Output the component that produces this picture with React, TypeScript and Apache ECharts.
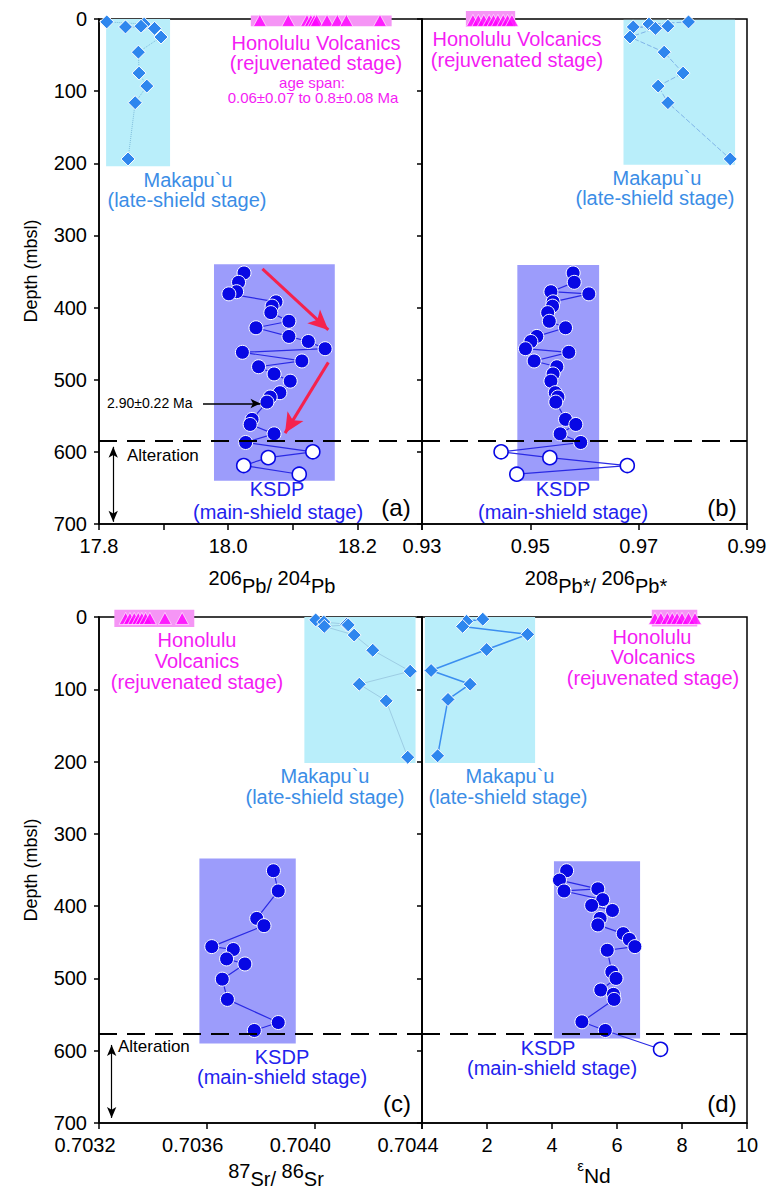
import React, { useEffect, useRef } from "react";
import * as echarts from "echarts";

const FONT = "'Liberation Sans', Arial, Helvetica, sans-serif";

// ---------- sample depths (mbsl) ----------
const MAK_DEPTH = [4, 7, 10, 11, 13, 25, 46, 75, 93, 116, 194];
const MAK_DEPTH_ND = [3, 6, 13, 24, 45, 74, 93, 114, 192];
const KSDP_DEPTH_PB = [352, 365, 378, 381, 392, 398, 407, 419, 428, 440, 447, 457, 462, 474, 482, 492, 502, 518, 524, 531, 555, 562, 575, 587];
const KSDP_ALT_DEPTH_PB = [600, 608, 619, 631];
const KSDP_DEPTH_SR = [351, 379, 417, 427, 456, 460, 473, 480, 501, 529, 561, 572];
const KSDP_DEPTH_ND = [351, 364, 376, 379, 391, 399, 406, 417, 426, 438, 446, 456, 461, 491, 500, 516, 522, 529, 560, 572];
const KSDP_ALT_DEPTH_ND = [598];
const HON_DEPTH = 2;

// ---------- (a) 206Pb/204Pb ----------
const MAK_PB206 = [17.812, 17.870, 17.865, 17.841, 17.886, 17.896, 17.861, 17.862, 17.874, 17.856, 17.845];
const KSDP_PB206 = [18.0245, 18.016, 18.013, 18.001, 18.074, 18.068, 18.066, 18.094, 18.043, 18.094, 18.124, 18.150, 18.022, 18.114, 18.047, 18.071, 18.096, 18.080, 18.065, 18.060, 18.037, 18.034, 18.071, 18.027];
const KSDP_ALT_PB206 = [18.131, 18.062, 18.024, 18.110];
const HON_PB206 = [18.049, 18.093, 18.122, 18.128, 18.133, 18.137, 18.153, 18.169, 18.183, 18.235];

// ---------- (b) 208Pb*/206Pb* ----------
const MAK_PB208 = [0.9792, 0.9719, 0.9754, 0.9690, 0.9731, 0.9684, 0.9747, 0.9782, 0.9736, 0.9754, 0.9869];
const KSDP_PB208 = [0.9579, 0.9581, 0.9538, 0.9608, 0.9542, 0.9541, 0.9532, 0.9535, 0.9565, 0.9512, 0.9501, 0.9491, 0.9571, 0.9507, 0.9549, 0.9542, 0.9538, 0.9546, 0.9551, 0.9547, 0.9565, 0.9584, 0.9555, 0.9593];
const KSDP_ALT_PB208 = [0.9446, 0.9536, 0.9679, 0.9475];
const HON_PB208 = [0.9394, 0.9404, 0.9414, 0.9424, 0.9432, 0.9440, 0.9450, 0.9458, 0.9466];

// ---------- (c) 87Sr/86Sr ----------
const MAK_SR = [0.704005, 0.704035, 0.70412, 0.704126, 0.704037, 0.704148, 0.704217, 0.704356, 0.704167, 0.704267, 0.704347];
const KSDP_SR = [0.703848, 0.703866, 0.703786, 0.703813, 0.703619, 0.703699, 0.703674, 0.703742, 0.703658, 0.703677, 0.703866, 0.703777];
const HON_SR = [0.703299, 0.703315, 0.703331, 0.703346, 0.703359, 0.703373, 0.703389, 0.703445, 0.703509];

// ---------- (d) eps Nd ----------
const MAK_ND = [1.87, 1.37, 1.25, 3.25, 1.99, 0.28, 1.48, 0.80, 0.48];
const KSDP_ND = [4.45, 4.23, 5.41, 4.37, 5.56, 5.22, 5.86, 5.48, 5.41, 6.19, 6.38, 6.55, 5.70, 5.84, 5.97, 5.50, 5.89, 5.91, 4.92, 5.64];
const KSDP_ALT_ND = [7.34];
const HON_ND = [7.17, 7.35, 7.55, 7.7, 7.85, 8.0, 8.2, 8.4];

// ---------- field boxes [x0, x1, depth0, depth1] ----------
const BOX_MAK = [[17.811, 17.910, 0, 204], [0.9672, 0.9878, 1, 202], [0.703963, 0.704376, 0, 202], [0.09, 3.48, 0, 202]];
const BOX_KSDP = [[17.978, 18.165, 340, 640], [0.9476, 0.9627, 341, 640], [0.703573, 0.703931, 334, 590], [4.06, 6.71, 338, 583]];
const BOX_HON = [[18.035, 18.253, -5, 10], [0.9381, 0.9472, -11, 11], [0.703257, 0.703554, -10, 14], [7.07, 8.47, -10, 13]];

// ---------- annotations ----------
const ALTERATION_DEPTH_TOP = 585;
const ALTERATION_DEPTH_BOTTOM = 576;
const ALT_ARROW_A = [17.822, 593, 697];
const ALT_ARROW_C = [0.703247, 592, 693];
const RED_ARROWS_A = [[18.053, 346.5, 18.155, 431], [18.155, 476, 18.088, 574]];
const AGE_ARROW_A = [17.961, 18.050, 533];

// ---------- axes ----------
const X_AXES = [
  { min: 17.8, max: 18.3, interval: 0.1 },
  { min: 0.93, max: 0.99, interval: 0.02 },
  { min: 0.7032, max: 0.7044, interval: 0.0004 },
  { min: 0, max: 10, interval: 2 },
];
const DEPTH_MIN = 0;
const DEPTH_MAX = 700;
const DEPTH_STEP = 100;

const C_CYAN_BOX = "#b9eefa";
const C_MAK = "#2e86ee";
const C_MAK_TXT = "#3b8de6";
const C_KSDP_BOX = "#9c9cfb";
const C_KSDP = "#0808e4";
const C_KSDP_TXT = "#2222ee";
const C_HON = "#ff00ff";
const C_HON_TXT = "#f41cf4";
const C_HON_BOX = "#f595f5";
const C_RED = "#f5224d";

const GRIDS = [
  { left: 99, top: 19, width: 323, height: 505 },
  { left: 422, top: 19, width: 325, height: 505 },
  { left: 99, top: 617, width: 323, height: 506 },
  { left: 422, top: 617, width: 325, height: 506 },
];

function xy(xs: number[], ys: number[]) {
  return xs.map((x, i) => [x, ys[i]]);
}

function boxSeries(i: number) {
  return {
    type: "custom",
    xAxisIndex: i,
    yAxisIndex: i,
    z: 1,
    silent: true,
    clip: false,
    encode: { x: [0, 1], y: [2, 3] },
    data: [
      { value: BOX_MAK[i], itemStyle: { color: C_CYAN_BOX } },
      { value: BOX_KSDP[i], itemStyle: { color: C_KSDP_BOX } },
      { value: BOX_HON[i], itemStyle: { color: C_HON_BOX } },
    ],
    renderItem: (params: any, api: any) => {
      const p0 = api.coord([api.value(0), api.value(2)]);
      const p1 = api.coord([api.value(1), api.value(3)]);
      return {
        type: "rect",
        shape: {
          x: Math.min(p0[0], p1[0]),
          y: Math.min(p0[1], p1[1]),
          width: Math.abs(p1[0] - p0[0]),
          height: Math.abs(p1[1] - p0[1]),
        },
        style: { fill: api.visual("color") },
      };
    },
  };
}

function makSeries(i: number, xs: number[], ds: number[], lineStyle: any) {
  return {
    type: "line",
    xAxisIndex: i,
    yAxisIndex: i,
    z: 3,
    silent: true,
    clip: false,
    data: xy(xs, ds),
    symbol: "diamond",
    symbolSize: 14,
    showSymbol: true,
    itemStyle: { color: C_MAK, borderColor: "#fff", borderWidth: 1 },
    lineStyle,
  };
}

function ksdpSeries(i: number, xs: number[], ds: number[], altX: number[], altD: number[], markLineData: any[]) {
  const filled = xy(xs, ds);
  const open = xy(altX, altD).map((v) => ({
    value: v,
    itemStyle: { color: "#fff", borderColor: C_KSDP, borderWidth: 1.6 },
  }));
  return {
    type: "line",
    xAxisIndex: i,
    yAxisIndex: i,
    z: 4,
    silent: true,
    clip: false,
    data: [...filled, ...open],
    symbol: "circle",
    symbolSize: 14,
    showSymbol: true,
    itemStyle: { color: C_KSDP, borderColor: "#fff", borderWidth: 1 },
    lineStyle: { color: "#2a2ae4", width: 1.2 },
    markLine: {
      silent: true,
      animation: false,
      symbol: ["none", "none"],
      label: { show: false },
      emphasis: { disabled: true },
      data: markLineData,
    },
  };
}

function honSeries(i: number, xs: number[]) {
  return {
    type: "scatter",
    xAxisIndex: i,
    yAxisIndex: i,
    z: 5,
    silent: true,
    clip: false,
    data: xs.map((x) => [x, HON_DEPTH]),
    symbol: "triangle",
    symbolSize: [13, 12],
    itemStyle: { color: C_HON, borderColor: "#fff", borderWidth: 0.8 },
  };
}

function dashed(depth: number) {
  return { yAxis: depth, lineStyle: { type: [18, 10], width: 2, color: "#000" } };
}

function arrow(x0: number, y0: number, x1: number, y1: number, color: string, width: number, size: number[], both = false) {
  return [
    { coord: [x0, y0], symbol: both ? "arrow" : "none", symbolSize: size, lineStyle: { color, width, type: "solid" } },
    { coord: [x1, y1], symbol: "arrow", symbolSize: size },
  ];
}

function txt(x: number, y: number, text: string, color: string, size: number, align = "center") {
  return {
    type: "text",
    x,
    y,
    z: 100,
    silent: true,
    style: { text, fill: color, fontSize: size, fontFamily: FONT, align, verticalAlign: "middle" },
  };
}

function richTitle(x: number, y: number, text: string, rich: any) {
  return {
    type: "text",
    x,
    y,
    z: 100,
    silent: true,
    style: { text, rich, align: "center", verticalAlign: "middle", fontFamily: FONT, fill: "#000" },
  };
}

export default function App() {
  const ref = useRef<HTMLDivElement>(null);

  useEffect(() => {
    document.body.style.margin = "0";
    if (!ref.current) return;
    const chart = echarts.init(ref.current, undefined, { renderer: "svg" });

    const axisLine = { show: true, onZero: false, lineStyle: { color: "#000", width: 1.5 } };

    const xAxis = X_AXES.map((a, i) => ({
      type: "value",
      gridIndex: i,
      min: a.min,
      max: a.max,
      interval: a.interval,
      position: "bottom",
      axisLine,
      axisTick: { show: true, inside: false, length: 6, lineStyle: { color: "#000", width: 1.5 } },
      splitLine: { show: false },
      axisLabel: {
        show: true,
        color: "#000",
        fontSize: 20,
        fontFamily: FONT,
        margin: 12,
        showMinLabel: true,
        showMaxLabel: true,
        padding: i === 2 ? [0, 28, 0, 0] : 0,
        formatter: (v: number) => {
          if (i === 0) {
            const k = Math.round(v * 10);
            return k % 2 === 0 ? v.toFixed(1) : "";
          }
          if (i === 1) return v.toFixed(2);
          if (i === 2) return v.toFixed(4);
          return Math.abs(v) < 1e-9 ? "" : String(Math.round(v));
        },
      },
    }));

    const yAxis = [0, 1, 2, 3].map((i) => ({
      type: "value",
      gridIndex: i,
      inverse: true,
      min: DEPTH_MIN,
      max: DEPTH_MAX,
      interval: DEPTH_STEP,
      position: "left",
      axisLine,
      axisTick: { show: true, inside: false, length: 5, lineStyle: { color: "#000", width: 1.5 } },
      splitLine: { show: false },
      axisLabel: {
        show: i === 0 || i === 2,
        color: "#000",
        fontSize: 20,
        fontFamily: FONT,
        margin: 12,
        showMinLabel: true,
        showMaxLabel: true,
      },
    }));

    const grid = GRIDS.map((g) => ({
      ...g,
      show: true,
      borderColor: "#000",
      borderWidth: 1.5,
      backgroundColor: "transparent",
      containLabel: false,
      outerBoundsMode: "none",
    }));

    const series: any[] = [];
    // (a)
    series.push(boxSeries(0));
    series.push(makSeries(0, MAK_PB206, MAK_DEPTH, { color: "#80bedc", width: 1, type: "dotted" }));
    series.push(
      ksdpSeries(0, KSDP_PB206, KSDP_DEPTH_PB, KSDP_ALT_PB206, KSDP_ALT_DEPTH_PB, [
        dashed(ALTERATION_DEPTH_TOP),
        arrow(RED_ARROWS_A[0][0], RED_ARROWS_A[0][1], RED_ARROWS_A[0][2], RED_ARROWS_A[0][3], C_RED, 3, [14, 20]),
        arrow(RED_ARROWS_A[1][0], RED_ARROWS_A[1][1], RED_ARROWS_A[1][2], RED_ARROWS_A[1][3], C_RED, 3, [14, 20]),
        arrow(AGE_ARROW_A[0], AGE_ARROW_A[2], AGE_ARROW_A[1], AGE_ARROW_A[2], "#000", 1.5, [7, 10]),
        arrow(ALT_ARROW_A[0], ALT_ARROW_A[1], ALT_ARROW_A[0], ALT_ARROW_A[2], "#000", 1.2, [7, 11], true),
      ])
    );
    series.push(honSeries(0, HON_PB206));
    // (b)
    series.push(boxSeries(1));
    series.push(makSeries(1, MAK_PB208, MAK_DEPTH, { color: "#7fb4e8", width: 1, type: [5, 2] }));
    series.push(ksdpSeries(1, KSDP_PB208, KSDP_DEPTH_PB, KSDP_ALT_PB208, KSDP_ALT_DEPTH_PB, [dashed(ALTERATION_DEPTH_TOP)]));
    series.push(honSeries(1, HON_PB208));
    // (c)
    series.push(boxSeries(2));
    series.push(makSeries(2, MAK_SR, MAK_DEPTH, { color: "#9dcde4", width: 1, type: "solid" }));
    series.push(
      ksdpSeries(2, KSDP_SR, KSDP_DEPTH_SR, [], [], [
        dashed(ALTERATION_DEPTH_BOTTOM),
        arrow(ALT_ARROW_C[0], ALT_ARROW_C[1], ALT_ARROW_C[0], ALT_ARROW_C[2], "#000", 1.2, [7, 11], true),
      ])
    );
    series.push(honSeries(2, HON_SR));
    // (d)
    series.push(boxSeries(3));
    series.push(makSeries(3, MAK_ND, MAK_DEPTH_ND, { color: "#3b8ef0", width: 1.5, type: "solid" }));
    series.push(ksdpSeries(3, KSDP_ND, KSDP_DEPTH_ND, KSDP_ALT_ND, KSDP_ALT_DEPTH_ND, [dashed(ALTERATION_DEPTH_BOTTOM)]));
    series.push(honSeries(3, HON_ND));

    const titleRich = (n: number) => ({
      n: { fontSize: n, fontFamily: FONT, lineHeight: 28, verticalAlign: "top", fill: "#000" },
      e: { fontSize: n, fontFamily: FONT, lineHeight: 28, verticalAlign: "bottom", fill: "#000" },
      s: { fontSize: 15, fontFamily: FONT, lineHeight: 28, verticalAlign: "top", fill: "#000" },
    });

    const depthTitle = (y: number) => ({
      type: "text",
      x: 31,
      y,
      rotation: Math.PI / 2,
      z: 100,
      silent: true,
      style: { text: "Depth (mbsl)", fill: "#000", fontSize: 18, fontFamily: FONT, align: "center", verticalAlign: "middle" },
    });

    const graphic: any[] = [
      depthTitle(271),
      depthTitle(870),
      // x titles
      richTitle(272, 582, "{n|206}{e|Pb/ }{n|204}{e|Pb}", titleRich(20)),
      richTitle(596, 582, "{n|208}{e|Pb*/ }{n|206}{e|Pb*}", titleRich(20)),
      richTitle(276, 1175, "{n|87}{e|Sr/ }{n|86}{e|Sr}", titleRich(20)),
      richTitle(594, 1172, "{s|ε}{e|Nd}", titleRich(21)),
      // (a)
      txt(316, 43, "Honolulu Volcanics", C_HON_TXT, 20),
      txt(316, 63, "(rejuvenated stage)", C_HON_TXT, 20),
      txt(312, 82, "age span:", C_HON_TXT, 15),
      txt(313, 97, "0.06±0.07 to 0.8±0.08 Ma", C_HON_TXT, 15),
      txt(188, 180, "Makapu`u", C_MAK_TXT, 20),
      txt(187, 200, "(late-shield stage)", C_MAK_TXT, 20),
      txt(277, 489, "KSDP", C_KSDP_TXT, 20),
      txt(278, 512, "(main-shield stage)", C_KSDP_TXT, 20),
      txt(396, 507, "(a)", "#000", 24),
      txt(107, 403, "2.90±0.22 Ma", "#000", 14, "left"),
      txt(127, 455, "Alteration", "#000", 17, "left"),
      // (b)
      txt(517, 39, "Honolulu Volcanics", C_HON_TXT, 20),
      txt(517, 60, "(rejuvenated stage)", C_HON_TXT, 20),
      txt(657, 178, "Makapu`u", C_MAK_TXT, 20),
      txt(655, 198, "(late-shield stage)", C_MAK_TXT, 20),
      txt(563, 489, "KSDP", C_KSDP_TXT, 20),
      txt(563, 512, "(main-shield stage)", C_KSDP_TXT, 20),
      txt(722, 507, "(b)", "#000", 24),
      // (c)
      txt(197, 640, "Honolulu", C_HON_TXT, 20),
      txt(197, 661, "Volcanics", C_HON_TXT, 20),
      txt(197, 682, "(rejuvenated stage)", C_HON_TXT, 20),
      txt(325, 776, "Makapu`u", C_MAK_TXT, 20),
      txt(325, 797, "(late-shield stage)", C_MAK_TXT, 20),
      txt(282, 1057, "KSDP", C_KSDP_TXT, 20),
      txt(282, 1077, "(main-shield stage)", C_KSDP_TXT, 20),
      txt(397, 1103, "(c)", "#000", 24),
      txt(118, 1046, "Alteration", "#000", 17, "left"),
      // (d)
      txt(652, 637, "Honolulu", C_HON_TXT, 20),
      txt(653, 657, "Volcanics", C_HON_TXT, 20),
      txt(653, 678, "(rejuvenated stage)", C_HON_TXT, 20),
      txt(510, 776, "Makapu`u", C_MAK_TXT, 20),
      txt(508, 797, "(late-shield stage)", C_MAK_TXT, 20),
      txt(548, 1048, "KSDP", C_KSDP_TXT, 20),
      txt(552, 1068, "(main-shield stage)", C_KSDP_TXT, 20),
      txt(722, 1103, "(d)", "#000", 24),
    ];

    chart.setOption({
      animation: false,
      backgroundColor: "#fff",
      textStyle: { fontFamily: FONT },
      grid,
      xAxis,
      yAxis,
      series,
      graphic,
    });

    return () => {
      chart.dispose();
    };
  }, []);

  return <div ref={ref} style={{ width: 768, height: 1194 }} />;
}
